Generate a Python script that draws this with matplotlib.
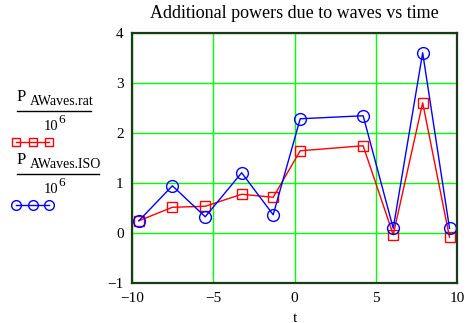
import numpy as np
import matplotlib.pyplot as plt
from matplotlib.lines import Line2D

# values
t = [-9.57, -7.51, -5.49, -3.25, -1.31, 0.35, 4.22, 6.07, 7.88, 9.53]
p_rat = [0.25, 0.52, 0.54, 0.78, 0.72, 1.65, 1.75, -0.03, 2.61, -0.08]
p_iso = [0.25, 0.95, 0.33, 1.21, 0.37, 2.29, 2.35, 0.10, 3.61, 0.10]
xticks = [-10, -5, 0, 5, 10]
yticks = [-1, 0, 1, 2, 3, 4]

plt.rcParams['font.family'] = ['Liberation Serif', 'DejaVu Serif']

fig = plt.figure(figsize=(4.66, 3.23), dpi=100)
ax = fig.add_axes([0.283, 0.123, 0.698, 0.774])

ax.plot(t, p_rat, color='red', lw=1, marker='s', ms=7, mfc='none', mew=1)
ax.plot(t, p_iso, color='blue', lw=1, marker='o', ms=8.5, mfc='none', mew=1)

ax.set_xlim(-10, 10)
ax.set_ylim(-1, 4)
ax.set_xticks(xticks)
ax.set_yticks(yticks)
ax.set_xticklabels(['\u2212' + str(-v) if v < 0 else str(v) for v in xticks], fontsize=11)
ax.set_yticklabels(['\u2212' + str(-v) if v < 0 else str(v) for v in yticks], fontsize=11)
ax.tick_params(length=0, pad=6)
ax.grid(True, color='#00ff00', lw=1)
ax.set_axisbelow(True)
for s in ax.spines.values():
    s.set_color('#1a3a1a')
    s.set_linewidth(1.6)

ax.set_title('Additional powers due to waves vs time', fontsize=13, pad=11)
ax.set_xlabel('t', fontsize=11, labelpad=5)

# left side legend, mathcad style
def legend_block(y0, name, color, marker, ms, lx1):
    fig.text(17/466, 1 - y0/323, 'P', fontsize=12, va='baseline')
    fig.text(30/466, 1 - (y0 + 4)/323, name, fontsize=10, va='baseline')
    fig.add_artist(Line2D([17/466, lx1/466], [1 - (y0 + 10)/323] * 2, color='black', lw=1))
    fig.text(44/466, 1 - (y0 + 29)/323, '10', fontsize=10.5, va='baseline')
    fig.text(58/466, 1 - (y0 + 22)/323, '6', fontsize=9.5, va='baseline')
    fig.add_artist(Line2D(np.array([16, 33, 49]) / 466, [1 - (y0 + 41)/323] * 3,
                          color=color, lw=1, marker=marker, ms=ms, mfc='none', mew=1))

legend_block(101, 'AWaves.rat', 'red', 's', 6, 91)
legend_block(164, 'AWaves.ISO', 'blue', 'o', 7, 99)

fig.savefig('out.png', dpi=100)
